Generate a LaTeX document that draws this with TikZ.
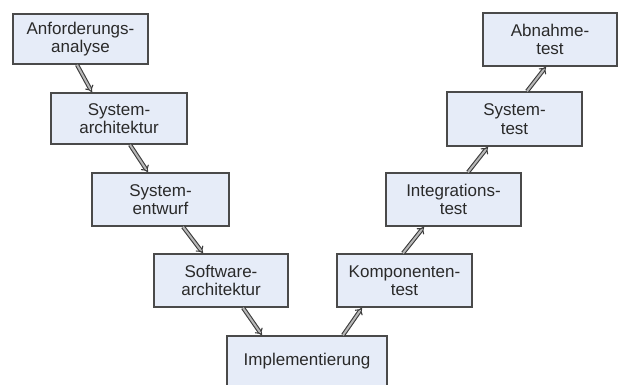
\documentclass[tikz,border=0pt]{standalone}
\usepackage{fontspec}
\setmainfont{Liberation Sans}
\usetikzlibrary{arrows.meta}
\definecolor{boxfill}{HTML}{E6ECF8}
\definecolor{boxline}{HTML}{4A4A4A}
\definecolor{txt}{HTML}{2A2A2A}
\definecolor{arrline}{HTML}{3C3C3C}
\definecolor{arrfill}{HTML}{B8B8B8}
\tikzset{
  phase/.style={draw=boxline, line width=1.6pt, fill=boxfill, text=txt,
    align=center, inner sep=0pt, font=\fontsize{17}{18.5}\selectfont},
  flow/.style={draw=arrline, line width=1.1pt, double=arrfill, double distance=2pt,
    -{Implies[length=5pt]}}
}
\begin{document}
\begin{tikzpicture}[x=1pt,y=-1pt]
\useasboundingbox (0,0) rectangle (618,385);
\node[phase, minimum width=135, minimum height=50] (b1) at (80.5,39) {Anforderungs-\\analyse};
\node[phase, minimum width=136, minimum height=51] (b2) at (119,118.5) {System-\\architektur};
\node[phase, minimum width=137, minimum height=53] (b3) at (160.5,199.5) {System-\\entwurf};
\node[phase, minimum width=134, minimum height=53] (b4) at (221,280.5) {Software-\\architektur};
\node[phase, minimum width=160, minimum height=50] (b5) at (307,361) {Implementierung};
\node[phase, minimum width=135, minimum height=53] (b6) at (404.5,280.5) {Komponenten-\\test};
\node[phase, minimum width=135, minimum height=53] (b7) at (453.5,199.5) {Integrations-\\test};
\node[phase, minimum width=135, minimum height=54] (b8) at (514.5,119) {System-\\test};
\node[phase, minimum width=134, minimum height=53] (b9) at (550,39.5) {Abnahme-\\test};
\draw[flow] ([xshift=-3.5]b1.south) -- ([xshift=-27]b2.north);
\draw[flow] ([xshift=11]b2.south) -- ([xshift=-12.5]b3.north);
\draw[flow] ([xshift=22.5]b3.south) -- ([xshift=-18]b4.north);
\draw[flow] ([xshift=22]b4.south) -- ([xshift=-45]b5.north);
\draw[flow] ([xshift=36]b5.north) -- ([xshift=-42.5]b6.south);
\draw[flow] ([xshift=-1.5]b6.north) -- ([xshift=-29.5]b7.south);
\draw[flow] ([xshift=14.5]b7.north) -- ([xshift=-26.5]b8.south);
\draw[flow] ([xshift=12.5]b8.north) -- ([xshift=-4]b9.south);
\end{tikzpicture}
\end{document}
